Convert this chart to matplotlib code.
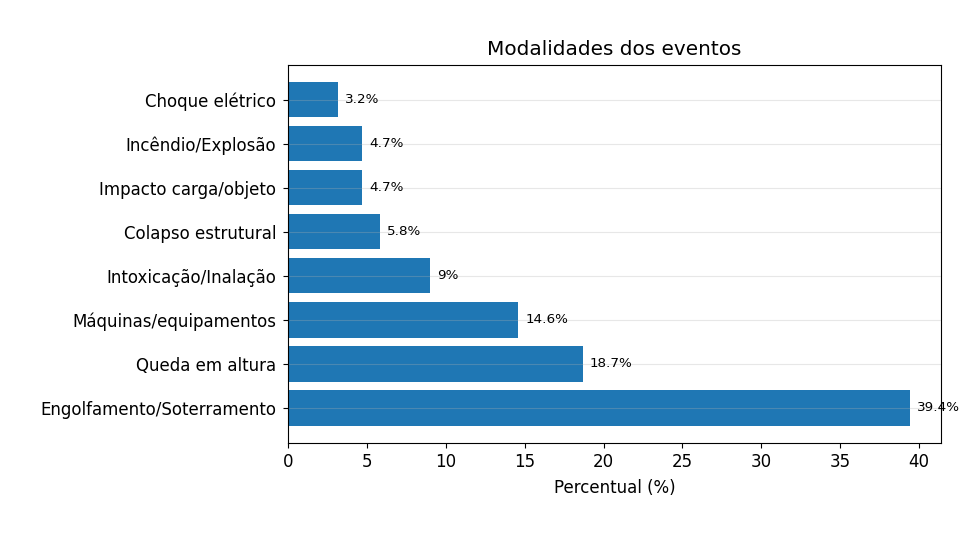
import matplotlib
matplotlib.use("Agg")
import matplotlib.pyplot as plt

categorias = ["Engolfamento/Soterramento", "Queda em altura", "Máquinas/equipamentos",
              "Intoxicação/Inalação", "Colapso estrutural", "Impacto carga/objeto",
              "Incêndio/Explosão", "Choque elétrico"]
percentuais = [39.4, 18.7, 14.6, 9, 5.8, 4.7, 4.7, 3.2]

fig, ax = plt.subplots(figsize=(9.6, 5.4), dpi=100)
fig.subplots_adjust(left=0.3, right=0.98, top=0.88, bottom=0.18)

bars = ax.barh(categorias, percentuais, color="#1f77b4")
ax.bar_label(bars, labels=[f"{v:g}%" for v in percentuais], padding=5, fontsize=9.7)
ax.grid(axis="y", alpha=0.3, linewidth=0.8)
ax.set_title("Modalidades dos eventos", fontsize=14.4, pad=7)
ax.set_xlabel("Percentual (%)", fontsize=12, labelpad=6)
ax.tick_params(labelsize=12)
ax.tick_params(axis="y", pad=5)

plt.savefig("out.png")
